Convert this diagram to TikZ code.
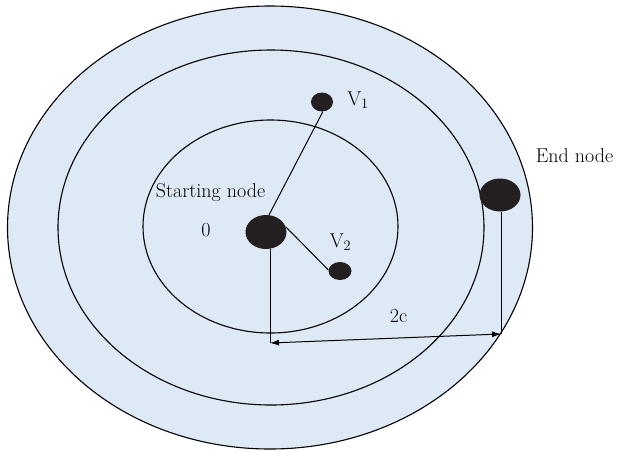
\documentclass[tikz,border=0pt]{standalone}
\usetikzlibrary{arrows.meta,shapes.geometric}
\definecolor{ringfill}{RGB}{221,233,244}
\definecolor{dotc}{RGB}{35,31,32}
\begin{document}
\begin{tikzpicture}[x=1pt,y=-1pt,
  ring/.style={draw=black,line width=1.1pt},
  dot/.style={ellipse,fill=dotc,inner sep=0pt},
  lbl/.style={font=\fontsize{20}{23}\selectfont,inner sep=0pt,anchor=base},
  conn/.style={draw=black,line width=1pt}]
\useasboundingbox (0,0) rectangle (619,451);
\draw[ring,fill=ringfill] (270,227.5) ellipse [x radius=262.5,y radius=221.5];
\draw[ring] (271,227.5) ellipse [x radius=213,y radius=177.5];
\draw[ring] (270.5,226.5) ellipse [x radius=127.5,y radius=106.5];
\node[dot,minimum width=41pt,minimum height=34pt] (start) at (266,232) {};
\node[dot,minimum width=22pt,minimum height=19pt] (v1) at (322,102) {};
\node[dot,minimum width=23pt,minimum height=18pt] (v2) at (340,271) {};
\node[dot,minimum width=41pt,minimum height=33pt] (end) at (500,195) {};
\coordinate (a) at (270,343);
\coordinate (b) at (501,334);
\draw[conn] (start.80) -- (v1.-85);
\draw[conn] (start.15) -- (v2.175);
\draw[conn] (a |- start.south) -- (a);
\draw[conn] (b |- end.south) -- (b);
\draw[conn,{Latex[length=9pt,width=6pt]}-{Latex[length=9pt,width=6pt]}] (a) -- (b);
\node[lbl] (t1) at (210.5,197) {Starting node};
\node[lbl] (t0) at (206,236.5) {0};
\node[lbl] (tv1) at (358,105) {V$_1$};
\node[lbl] (tv2) at (340.5,247) {V$_2$};
\node[lbl] (tend) at (574.5,162) {End node};
\node[lbl] (t2c) at (398.5,322) {2c};
\end{tikzpicture}
\end{document}
